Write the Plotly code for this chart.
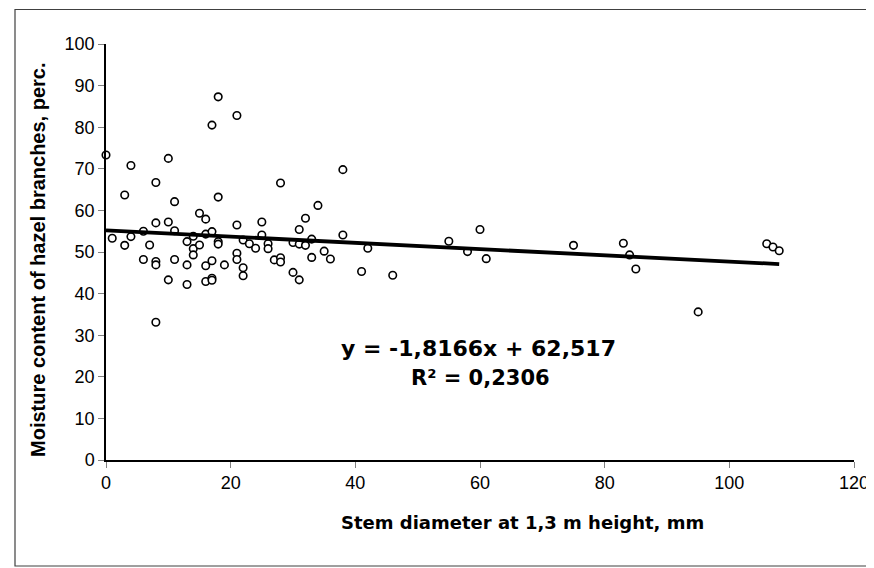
import plotly.graph_objects as go

# Stem diameter (mm) and moisture content (%)
diameter = [0, 1, 3, 3, 4, 4, 6, 6, 7,
            8, 8, 8, 8, 8,
            10, 10, 10, 11, 11, 11,
            13, 13, 13, 14, 14, 14, 15, 15,
            16, 16, 16, 16, 17, 17, 17, 17, 17,
            18, 18, 18, 18, 19, 21, 21, 21, 21,
            22, 22, 22, 23, 24, 25, 25, 26, 26, 27,
            28, 28, 28, 30, 30, 31, 31, 31, 32, 32,
            33, 33, 34, 35, 36, 38, 38, 41, 42, 46,
            55, 58, 60, 61, 75, 83, 84, 85, 95, 106, 107, 108]
moisture = [73.3, 53.3, 63.7, 51.6, 70.8, 53.7, 55.0, 48.2, 51.7,
            66.7, 57.0, 47.7, 46.9, 33.1,
            72.5, 57.2, 43.3, 62.1, 55.1, 48.2,
            52.5, 46.9, 42.2, 53.8, 50.8, 49.3, 59.3, 51.7,
            57.9, 54.3, 46.7, 42.9, 80.5, 54.9, 47.9, 43.7, 43.2,
            87.3, 63.2, 52.5, 51.9, 46.9, 82.8, 56.5, 49.7, 48.2,
            52.9, 46.2, 44.3, 52.0, 50.9, 57.2, 54.1, 52.0, 50.8, 48.1,
            66.6, 48.6, 47.6, 52.3, 45.1, 55.4, 51.9, 43.3, 58.1, 51.6,
            53.1, 48.7, 61.2, 50.2, 48.3, 69.8, 54.1, 45.3, 50.9, 44.4,
            52.6, 50.1, 55.4, 48.4, 51.6, 52.1, 49.3, 45.9, 35.6, 52.0, 51.2, 50.3]

# Trend line end points as drawn
trend_x = [0, 108]
trend_y = [55.2, 47.1]

equation_text = "y = -1,8166x + 62,517"
r2_text = "R² = 0,2306"
x_title = "Stem diameter at 1,3 m height, mm"
y_title = "Moisture content of hazel branches, perc."

x_ticks = [0, 20, 40, 60, 80, 100, 120]
y_ticks = [0, 10, 20, 30, 40, 50, 60, 70, 80, 90, 100]

W, H = 874, 568
L, R, T, B = 98, 28, 36, 116
pw, ph = W - L - R, H - T - B


def px(xp):
    return (xp - L) / pw


def py(yp):
    return (H - B - yp) / ph


fig = go.Figure()
fig.add_trace(go.Scatter(
    x=diameter, y=moisture, mode="markers",
    marker=dict(symbol="circle", size=7.5, color="white",
                line=dict(color="black", width=1.6)),
    showlegend=False, cliponaxis=False))
fig.add_trace(go.Scatter(
    x=trend_x, y=trend_y, mode="lines",
    line=dict(color="black", width=3.8), showlegend=False))

font_family = "Liberation Sans, Arial, sans-serif"
wide_bold = "DejaVu Sans, Liberation Sans, sans-serif"

fig.update_layout(
    width=W, height=H,
    margin=dict(l=L, r=R, t=T, b=B, pad=0),
    paper_bgcolor="white", plot_bgcolor="white",
    font=dict(family=font_family, color="black", size=17),
    xaxis=dict(range=[0, 120], tickvals=x_ticks, ticks="outside", ticklen=6,
               tickcolor="#808080", tickwidth=1, showline=True,
               linecolor="black", linewidth=1.5, showgrid=False, zeroline=False,
               tickfont=dict(size=18), fixedrange=True),
    yaxis=dict(range=[0, 100], tickvals=y_ticks, ticks="outside", ticklen=6,
               tickcolor="#808080", tickwidth=1, showline=True,
               linecolor="black", linewidth=1.5, showgrid=False, zeroline=False,
               tickfont=dict(size=18), fixedrange=True),
)

# axis titles
fig.add_annotation(text=f"<b>{x_title}</b>", xref="paper", yref="paper",
                   x=px(514), y=py(514), showarrow=False,
                   font=dict(size=18, family=wide_bold),
                   xanchor="center", yanchor="middle")
fig.add_annotation(text=f"<b>{y_title}</b>", xref="paper", yref="paper",
                   x=px(30), y=py(252), showarrow=False,
                   textangle=-90, font=dict(size=20),
                   xanchor="center", yanchor="middle")

# equation
fig.add_annotation(text=f"<b>{equation_text}</b>", xref="paper", yref="paper",
                   x=px(470), y=py(340), showarrow=False,
                   font=dict(size=22, family=wide_bold),
                   xanchor="center", yanchor="middle")
fig.add_annotation(text=f"<b>{r2_text}</b>", xref="paper", yref="paper",
                   x=px(472), y=py(370), showarrow=False,
                   font=dict(size=21, family=wide_bold),
                   xanchor="center", yanchor="middle")

# outer frame
fig.add_shape(type="rect", xref="paper", yref="paper",
              x0=px(7), x1=px(870), y0=py(558), y1=py(1.5),
              line=dict(color="#404040", width=1.2), fillcolor="rgba(0,0,0,0)",
              layer="below")

fig.write_html("out.html")
